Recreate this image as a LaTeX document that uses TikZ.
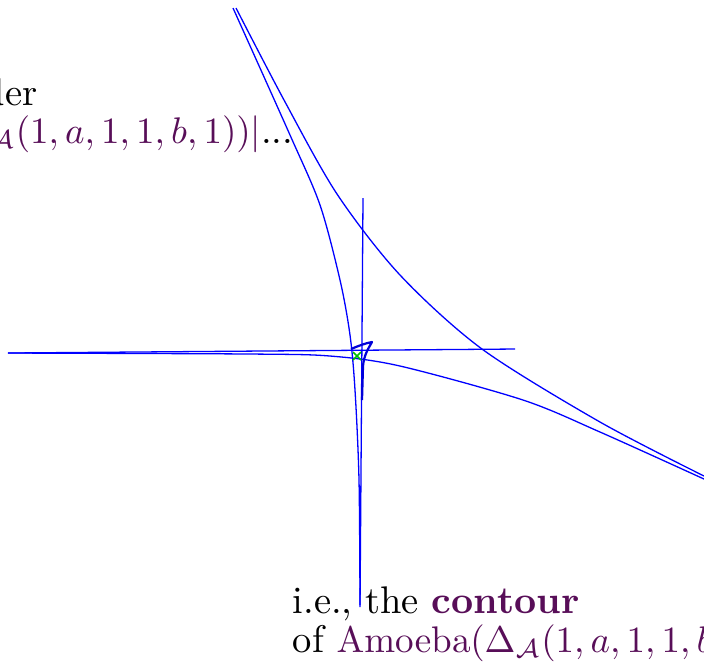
\documentclass[tikz,border=0pt]{standalone}
\usepackage{amsmath,amssymb}
\definecolor{amoeba}{RGB}{88,14,88}
\begin{document}
\begin{tikzpicture}[x=0.27pt,y=-0.27pt,
  spine/.style={blue,line width=0.35pt},
  branch/.style={blue,line width=0.35pt},
  cusp/.style={blue!85!black,line width=0.6pt,line join=round},
  marker/.style={green!75!black,line width=0.45pt},
  note/.style={inner sep=0pt,font=\fontsize{10.4}{11}\selectfont}]
\useasboundingbox (0,0) rectangle (704,662);
\clip (0,0) rectangle (704,662);
% straight spines
\coordinate (vtop) at (363,198);
\coordinate (vbot) at (360,607);
\coordinate (hl) at (8,353);
\coordinate (hr) at (515,349);
\draw[spine] (vtop) -- (vbot);
\draw[spine] (hl) -- (hr);
% contour branches
\draw[branch] plot[smooth] coordinates {(233,8) (290,135) (320,205) (340,280) (350,335) (355,390) (359,480) (360,605)};
\draw[branch] plot[smooth] coordinates {(236,8) (284,100) (337,194) (400,275) (482,349) (600,422) (704,476)};
\draw[branch] plot[smooth] coordinates {(8,353) (250,354) (330,356) (400,366) (523,400) (600,432) (704,479)};
% small cusp triangle and the marked point
\draw[cusp] (351,349) .. controls (358,346) and (366,343) .. (372,342)
  .. controls (368,349) and (364,355) .. (363,366) -- (362,400);
\draw[marker] (353,352) -- (361,360) (353,360) -- (361,352);
% notes
\node[note,anchor=base east] (der) at (38,105) {der};
\node[note,anchor=base east] (absval) at (294,143) {\textcolor{amoeba}{$\Delta_{\mathcal A}(1,a,1,1,b,1))|$}...};
\node[note,anchor=base west] (ie) at (292,613) {i.e., the \textcolor{amoeba}{\textbf{contour}}};
\node[note,anchor=base west] (of) at (292,652) {of \textcolor{amoeba}{$\mathrm{Amoeba}(\Delta_{\mathcal A}(1,a,1,1,b,1))$}};
\end{tikzpicture}
\end{document}
